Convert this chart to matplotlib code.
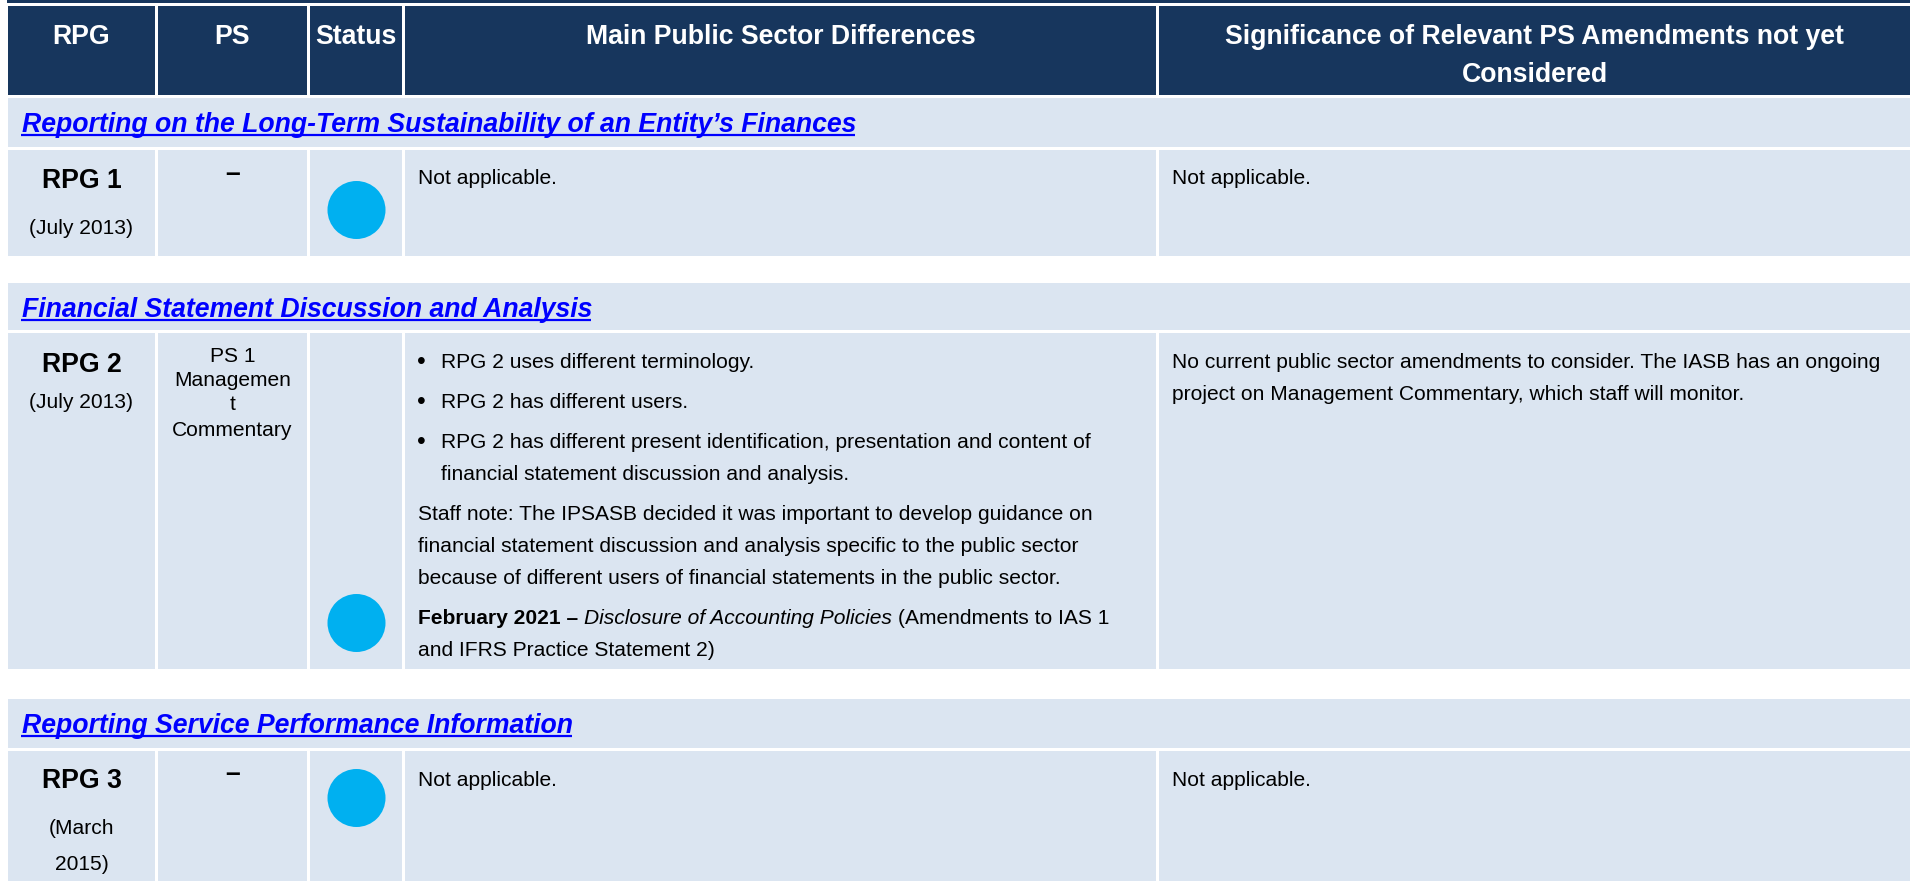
import matplotlib.pyplot as plt
from matplotlib.patches import Rectangle, Circle

plt.rcParams['font.family'] = ['Liberation Sans', 'DejaVu Sans']

NAVY = '#17365D'
CELL = '#DBE5F1'
LINK = '#0000FF'
DOT = '#00B0F0'

# ---- table content ----
header_labels = [["RPG"], ["PS"], ["Status"], ["Main Public Sector Differences"],
                 ["Significance of Relevant PS Amendments not yet", "Considered"]]
section_titles = ["Reporting on the Long-Term Sustainability of an Entity\u2019s Finances",
                  "Financial Statement Discussion and Analysis",
                  "Reporting Service Performance Information"]
rpg_names = ["RPG 1", "RPG 2", "RPG 3"]
rpg_dates = [["(July 2013)"], ["(July 2013)"], ["(March", "2015)"]]
ps_names = [["\u2013"], ["PS 1", "Managemen", "t", "Commentary"], ["\u2013"]]
status = ["done", "done", "done"]

# paragraphs: (bullet?, lines), each line a list of (text, style) runs
differences = [
    [(False, [[("Not applicable.", "n")]])],
    [(True, [[("RPG 2 uses different terminology.", "n")]]),
     (True, [[("RPG 2 has different users.", "n")]]),
     (True, [[("RPG 2 has different present identification, presentation and content of", "n")],
             [("financial statement discussion and analysis.", "n")]]),
     (False, [[("Staff note: The IPSASB decided it was important to develop guidance on", "n")],
              [("financial statement discussion and analysis specific to the public sector", "n")],
              [("because of different users of financial statements in the public sector.", "n")]]),
     (False, [[("February 2021 \u2013", "b"), ("Disclosure of Accounting Policies", "i"),
               ("(Amendments to IAS 1", "n")],
              [("and IFRS Practice Statement 2)", "n")]])],
    [(False, [[("Not applicable.", "n")]])],
]
significance = [
    ["Not applicable."],
    ["No current public sector amendments to consider. The IASB has an ongoing",
     "project on Management Commentary, which staff will monitor."],
    ["Not applicable."],
]

# ---- layout (pixels) ----
cols = [(8, 155), (158, 307), (310, 402), (405, 1156), (1159, 1910)]
header_box = (6, 95)
section_boxes = [(98, 147), (283, 330), (699, 748)]
row_boxes = [(150, 256), (333, 669), (751, 884)]
row_layout = [
    dict(rpg=37.5, dates=[83.5], ps=[31], dot=60),
    dict(rpg=39.5, dates=[74.5], ps=[29.5, 53.5, 77.5, 103.5], dot=290),
    dict(rpg=37.5, dates=[83.5, 119.5], ps=[30], dot=47),
]
status_color = {"done": DOT}
BODY = 15.1
BIG = 19.2
STYLES = {"n": dict(), "b": dict(fontweight='bold'), "i": dict(fontstyle='italic')}

fig = plt.figure(figsize=(19.15, 8.81), dpi=100)
ax = fig.add_axes([0, 0, 1, 1])
ax.set_xlim(0, 1915)
ax.set_ylim(881, 0)
ax.axis('off')
renderer = fig.canvas.get_renderer()


def width(t):
    return t.get_window_extent(renderer).width


def space_width(size, **kw):
    a = ax.text(0, -100, "a a", fontsize=size, **kw)
    b = ax.text(0, -100, "aa", fontsize=size, **kw)
    w = width(a) - width(b)
    a.remove()
    b.remove()
    return w


sp = space_width(BODY)


def cell(x0, x1, y0, y1, color):
    ax.add_patch(Rectangle((x0, y0), x1 - x0, y1 - y0, facecolor=color, edgecolor='none'))


def runs_line(x, y, runs):
    for txt, style in runs:
        t = ax.text(x, y, txt, fontsize=BODY, va='baseline', ha='left', color='black', **STYLES[style])
        x += width(t) + sp


# top rule
ax.add_patch(Rectangle((7, 0), 1903, 3, facecolor=NAVY, edgecolor='none'))

# header
for (x0, x1), lines in zip(cols, header_labels):
    cell(x0, x1, header_box[0], header_box[1], NAVY)
    for j, label in enumerate(lines):
        ax.text((x0 + x1) / 2, 44.5 + 37 * j, label, fontsize=BIG, fontweight='bold', color='white',
                ha='center', va='baseline')

for i in range(len(rpg_names)):
    s0, s1 = section_boxes[i]
    cell(cols[0][0], cols[-1][1], s0, s1, CELL)
    t = ax.text(22, s0 + 34, section_titles[i], fontsize=BIG, fontweight='bold', fontstyle='italic',
                color=LINK, ha='left', va='baseline')
    w = width(t)
    ax.plot([21, 21 + w], [s0 + 37, s0 + 37], color=LINK, lw=1.6, solid_capstyle='butt')

    r0, r1 = row_boxes[i]
    lay = row_layout[i]
    for x0, x1 in cols:
        cell(x0, x1, r0, r1, CELL)

    cx = (cols[0][0] + cols[0][1]) / 2
    ax.text(cx, r0 + lay['rpg'], rpg_names[i], fontsize=BIG, fontweight='bold', ha='center', va='baseline')
    for d, off in zip(rpg_dates[i], lay['dates']):
        ax.text(cx, r0 + off, d, fontsize=BODY, ha='center', va='baseline')

    px = (cols[1][0] + cols[1][1]) / 2
    for p, off in zip(ps_names[i], lay['ps']):
        if p == "\u2013":
            ax.text(px, r0 + off, p, fontsize=BIG, fontweight='bold', ha='center', va='baseline')
        else:
            ax.text(px, r0 + off, p, fontsize=BODY, ha='center', va='baseline')

    ax.add_patch(Circle(((cols[2][0] + cols[2][1]) / 2 + 0.5, r0 + lay['dot']), 29,
                        facecolor=status_color[status[i]], edgecolor='none'))

    y = r0 + 34.5
    for k, (bullet, lines) in enumerate(differences[i]):
        if k > 0:
            y += 40
        for j, runs in enumerate(lines):
            if j > 0:
                y += 32
            if bullet:
                if j == 0:
                    ax.text(417, y + 1, "\u2022", fontsize=BODY * 1.2, ha='left', va='baseline')
                runs_line(441, y, runs)
            else:
                runs_line(418, y, runs)

    y = r0 + 34.5
    for j, line in enumerate(significance[i]):
        ax.text(1172, y + 32 * j, line, fontsize=BODY, ha='left', va='baseline')

fig.savefig('out.png', dpi=100)
